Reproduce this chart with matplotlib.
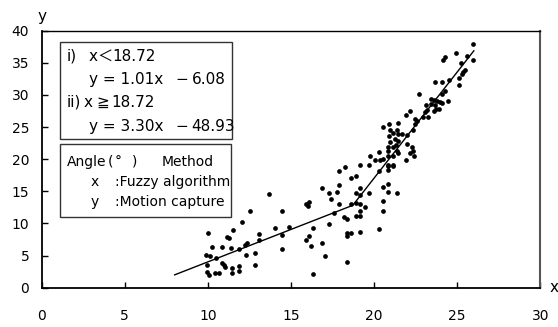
import matplotlib
matplotlib.use("Agg")
import matplotlib.pyplot as plt
from matplotlib.patches import Rectangle

plt.rcParams['font.family'] = ['DejaVu Sans', 'Noto Sans CJK JP']

# Fuzzy algorithm angle (x) vs motion capture angle (y), degrees
fuzzy_x = [
    9.98, 9.87, 10.12, 9.97, 9.97, 10.08, 10.45, 10.68, 10.5, 10.25,
    10.82, 10.85, 10.97, 11.05, 11.13, 11.25, 11.5, 11.42, 11.42, 11.39,
    11.88, 11.88, 11.88, 12.07, 12.25, 12.37, 12.27, 12.56, 12.84, 12.85,
    13.08, 13.07, 13.7, 14.03,
    14.44, 14.88, 14.44, 14.44, 15.88, 16.1, 16.18, 16.35, 16.35, 16.87,
    16.87, 17.05, 17.3, 17.3, 17.42, 17.75, 17.9, 17.89, 17.9, 17.6,
    18.25, 18.21, 18.37, 18.35, 18.35, 18.62, 18.39, 18.62, 18.92, 18.6,
    18.92, 18.92, 15.9, 16.08, 16.05,
    19.15, 19.17, 19.17, 19.17, 19.17, 18.92, 19.17, 19.17, 19.48, 19.7,
    19.7, 20.3, 20.3, 20.55, 20.55, 20.55, 20.84, 20.84, 20.86, 20.84,
    21.14, 21.38, 20.06, 20.33, 20.55, 19.75, 20.31, 20.86, 21.12, 21.36,
    21.94, 20.86, 21.12,
    20.86, 21.12, 21.32, 20.96, 21.26, 21.46, 20.92, 21.12, 21.46, 21.66,
    21.96, 21.96, 22.3, 22.36, 22.16, 22.42, 21.46, 20.86,
    21.36, 20.52, 20.9, 20.96, 21.42, 22.36, 22.6, 22.46,
    21.94, 22.14, 22.48, 22.96, 23.26, 23.06, 23.16, 23.12, 23.4, 23.62,
    23.72, 23.9, 23.66, 23.4, 23.58, 23.76, 23.96, 24.1, 24.43, 22.68,
    24.07, 24.25,
    23.64, 24.07, 24.52, 25.08, 25.13, 25.27, 25.37, 25.48, 25.2, 24.12,
    24.27, 24.9, 25.56, 25.96, 25.95,
]
capture_y = [
    8.5, 5.1, 4.95, 3.6, 2.45, 2.0, 2.25, 2.25, 4.55, 6.35,
    6.3, 3.9, 3.55, 3.25, 7.95, 7.7, 8.95, 3.0, 2.25, 6.15,
    3.4, 2.6, 6.05, 10.3, 6.6, 7.0, 5.05, 12.0, 5.45, 3.55,
    8.4, 7.4, 14.6, 9.3,
    11.92, 9.4, 8.2, 5.95, 7.42, 8.12, 6.5, 9.3, 2.1, 15.52,
    6.96, 4.98, 9.88, 14.72, 13.85, 14.82, 15.98, 18.15, 13.0, 11.65,
    18.84, 10.96, 10.76, 8.56, 8.05, 8.56, 4.0, 17.15, 17.4, 12.95,
    14.69, 13.18, 13.0, 13.35, 12.65,
    19.08, 15.55, 14.45, 12.98, 11.94, 11.13, 11.13, 8.64, 12.58, 19.05,
    14.69, 18.16, 9.18, 15.67, 13.49, 11.9, 16.14, 14.94, 18.94, 18.3,
    18.94, 14.72, 19.85, 19.85, 20.1, 20.45, 21.1, 20.45, 20.45, 21.3,
    19.85, 19.1, 19.1,
    21.95, 21.95, 22.21, 22.72, 23.1, 22.88, 23.61, 24.03, 23.92, 23.85,
    23.7, 22.35, 21.95, 21.32, 20.92, 20.5, 21.0, 21.35,
    24.54, 25.06, 25.5, 24.6, 25.65, 24.5, 26.0, 25.5,
    26.95, 27.45, 26.2, 26.5, 26.55, 27.35, 27.7, 28.44, 28.54, 27.45,
    27.8, 27.8, 28.44, 29.3, 29.25, 29.1, 28.95, 28.7, 29.1, 30.1,
    30.2, 30.6,
    32.05, 31.95, 32.4, 31.5, 32.7, 33.2, 33.6, 33.95, 34.95, 35.4,
    35.96, 36.48, 36.0, 35.4, 37.93,
]

# piecewise regression
break_x = 18.72
slope_1, intercept_1 = 1.01, -6.08
slope_2, intercept_2 = 3.30, -48.93
fit_start, fit_end = 8.0, 26.0

x_ticks = [0, 5, 10, 15, 20, 25, 30]
y_ticks = [0, 5, 10, 15, 20, 25, 30, 35, 40]

W, H = 558, 327
fig = plt.figure(figsize=(W / 100, H / 100), dpi=100)


def fx(p):
    return p / W


def fy(p):
    return 1 - p / H


L, R, T, B = 41.7, 540.3, 30.7, 287.7
ax = fig.add_axes([fx(L), fy(B), fx(R) - fx(L), fy(T) - fy(B)])

ax.plot(fuzzy_x, capture_y, 'o', color='black', markersize=3.4, markeredgewidth=0)
line_x = [fit_start, break_x, fit_end]
line_y = [slope_1 * fit_start + intercept_1,
          slope_1 * break_x + intercept_1,
          slope_2 * fit_end + intercept_2]
ax.plot(line_x, line_y, color='black', linewidth=1.0)

ax.set_xlim(0, 30)
ax.set_ylim(0, 40)
ax.set_xticks(x_ticks)
ax.set_yticks(y_ticks)
ax.tick_params(axis='x', direction='in', length=4, width=1, pad=15.5, labelsize=10)
ax.tick_params(axis='y', direction='in', length=4, width=1, pad=9, labelsize=10)
for s in ['left', 'bottom']:
    ax.spines[s].set_linewidth(1.3)
ax.spines['top'].set_linewidth(1.0)
ax.spines['right'].set_linewidth(1.5)
ax.spines['right'].set_color('#555555')

fig.text(fx(42), fy(17), 'y', ha='center', va='center', fontsize=11)
fig.text(fx(554), fy(288), 'x', ha='center', va='center', fontsize=11)

# box 1
fig.patches.append(Rectangle((fx(60), fy(139)), fx(232) - fx(60), fy(42) - fy(139),
                             transform=fig.transFigure, fill=True, facecolor='white',
                             edgecolor='#333333', linewidth=1.0))
fs1 = 11
box1 = [
    (66.7, 60.7, 'i)'), (88.3, 60.7, 'x'), (97, 60.7, '＜'), (112, 60.7, '18.72'),
    (89.3, 84.3, 'y = 1.01x'), (175, 84.3, '−'), (191.7, 84.3, '6.08'),
    (66.7, 106.7, 'ii)'), (83.3, 106.7, 'x'), (96.7, 106.7, '≧'), (111.7, 106.7, '18.72'),
    (89.3, 130.7, 'y = 3.30x'), (175, 130.7, '−'), (191.7, 130.7, '48.93'),
]
for x0, y0, s in box1:
    fig.text(fx(x0), fy(y0), s, ha='left', va='baseline', fontsize=fs1)

# box 2
fig.patches.append(Rectangle((fx(60), fy(217)), fx(231) - fx(60), fy(144) - fy(217),
                             transform=fig.transFigure, fill=True, facecolor='white',
                             edgecolor='#333333', linewidth=1.0))
fs2 = 10
box2 = [
    (66.7, 165.7, 'Angle'), (108, 165.7, '('), (115, 165.7, '°'), (131.7, 165.7, ')'),
    (161.7, 165.7, 'Method'),
    (91, 186, 'x'), (115, 186, ':Fuzzy algorithm'),
    (91, 205.7, 'y'), (115, 205.7, ':Motion capture'),
]
for x0, y0, s in box2:
    fig.text(fx(x0), fy(y0), s, ha='left', va='baseline', fontsize=fs2)

fig.savefig('out.png', dpi=100)
